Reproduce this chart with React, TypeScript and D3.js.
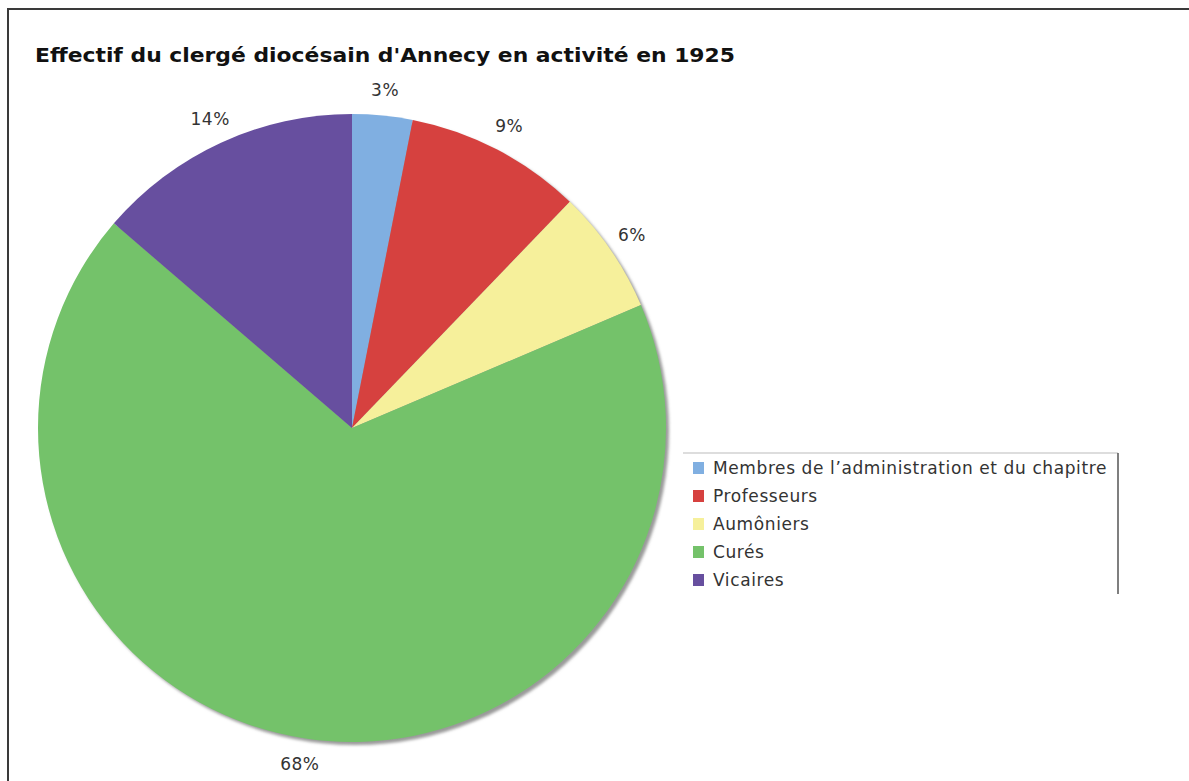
import React from "react";
import * as d3 from "d3";

const categories = [
  "Membres de l\u2019administration et du chapitre",
  "Professeurs",
  "Aum\u00f4niers",
  "Cur\u00e9s",
  "Vicaires",
];
const values = [3.1, 9.1, 6.4, 67.7, 13.7];
const labels = ["3%", "9%", "6%", "68%", "14%"];
const colors = ["#80afe1", "#d6413f", "#f6f09b", "#74c26a", "#674f9f"];
const title = "Effectif du clerg\u00e9 diocésain d'Annecy en activit\u00e9 en 1925";

const W = 1189;
const H = 781;
const cx = 352;
const cy = 428;
const R = 314;
const labelR = 340;

export default function App() {
  const pie = d3.pie<number>().sort(null).value((d) => d);
  const arcs = pie(values);
  const arc = d3.arc<d3.PieArcDatum<number>>().innerRadius(0).outerRadius(R);
  const labelArc = d3
    .arc<d3.PieArcDatum<number>>()
    .innerRadius(labelR)
    .outerRadius(labelR);

  const legendX = 693;
  const legendY0 = 468;
  const legendStep = 28;

  return (
    <div style={{ position: "absolute", left: 0, top: 0 }}>
      <svg width={W} height={H} style={{ display: "block", background: "#fff" }}>
        <defs>
          <filter id="shadowBlur" x="-10%" y="-10%" width="120%" height="120%">
            <feGaussianBlur stdDeviation="1.5" />
          </filter>
        </defs>
        {/* frame */}
        <rect x={8} y={9} width={W + 20} height={H + 20} fill="#fff" stroke="#3a3a3a" strokeWidth={2} />
        <text
          x={35}
          y={62}
          fontFamily="DejaVu Sans, Verdana, sans-serif"
          fontWeight="bold"
          fontSize={19}
          fill="#111"
          textLength={700}
          lengthAdjust="spacingAndGlyphs"
        >
          {title}
        </text>
        {/* shadow */}
        <circle cx={cx + 3} cy={cy + 3} r={R} fill="#9a9a9a" filter="url(#shadowBlur)" />
        <g transform={`translate(${cx},${cy})`}>
          {arcs.map((a, i) => (
            <path key={i} d={arc(a) || ""} fill={colors[i]} />
          ))}
          {arcs.map((a, i) => {
            const [lx, ly] = labelArc.centroid(a);
            return (
              <text
                key={"l" + i}
                x={lx}
                y={ly}
                dy="0.35em"
                textAnchor="middle"
                fontFamily="DejaVu Sans, Verdana, sans-serif"
                fontSize={17}
                letterSpacing={0.5}
                fill="#333"
              >
                {labels[i]}
              </text>
            );
          })}
        </g>
        {/* legend */}
        <line x1={683} y1={453} x2={1118} y2={453} stroke="#bbb" strokeWidth={1} />
        <line x1={1118} y1={453} x2={1118} y2={594} stroke="#555" strokeWidth={1.5} />
        {categories.map((c, i) => (
          <g key={"lg" + i} transform={`translate(${legendX},${legendY0 + i * legendStep})`}>
            <rect x={0} y={-6} width={11} height={12} fill={colors[i]} />
            <text
              x={20}
              y={0}
              dy="0.35em"
              fontFamily="DejaVu Sans, Verdana, sans-serif"
              fontSize={17}
              letterSpacing={0.6}
              fill="#333"
            >
              {c}
            </text>
          </g>
        ))}
      </svg>
    </div>
  );
}
